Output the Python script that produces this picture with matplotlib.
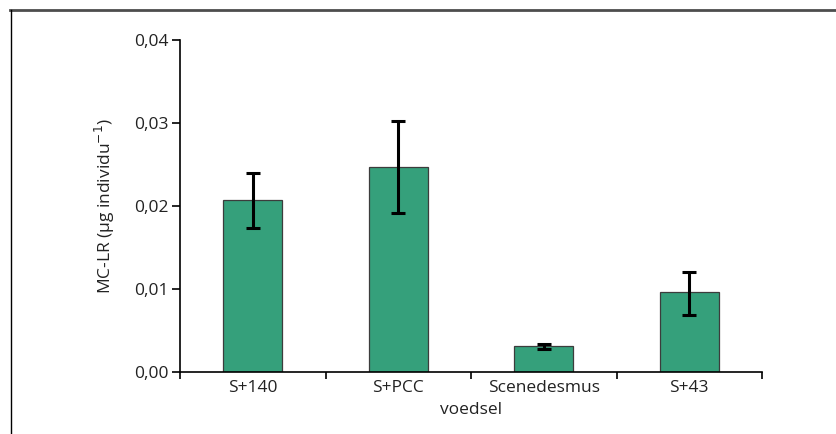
import numpy as np
import matplotlib.pyplot as plt
from matplotlib.lines import Line2D
from matplotlib.ticker import FuncFormatter

plt.rcParams['font.family'] = ['Open Sans', 'DejaVu Sans']

# Data
categories = ['S+140', 'S+PCC', 'Scenedesmus', 'S+43']
values = [0.0207, 0.0247, 0.0031, 0.0096]
err_low = [0.0173, 0.0191, 0.0028, 0.0069]
err_high = [0.0240, 0.0303, 0.0034, 0.0121]

values = np.array(values)
yerr = np.array([values - np.array(err_low), np.array(err_high) - values])
x = np.arange(len(categories))

fig = plt.figure(figsize=(8.36, 4.34), dpi=100)
ax = fig.add_axes([180 / 836, 62 / 434, 582 / 836, 332 / 434])

ax.bar(x, values, width=0.405, color='#35a07b', edgecolor='#3c3c3c', linewidth=0.9, zorder=2)
ax.errorbar(x, values, yerr=yerr, fmt='none', ecolor='black', elinewidth=2.2,
            capsize=4.8, capthick=2.2, zorder=3)

ax.set_xlim(-0.5, 3.5)
ax.set_ylim(0, 0.04)
ax.set_yticks([0, 0.01, 0.02, 0.03, 0.04])
ax.yaxis.set_major_formatter(FuncFormatter(lambda v, p: f'{v:.2f}'.replace('.', ',')))

# category boundaries as ticks, labels on minor ticks
ax.set_xticks(np.arange(-0.5, 4, 1.0))
ax.set_xticklabels([])
ax.set_xticks(x, minor=True)
ax.set_xticklabels(categories, minor=True)
ax.tick_params(axis='x', which='major', direction='out', length=5, width=1.2)
ax.tick_params(axis='x', which='minor', length=0, pad=6)
ax.tick_params(axis='y', direction='out', length=5.5, width=1.2, pad=3)
ax.tick_params(which='both', labelsize=12.5, labelcolor='#222222')

for s in ['top', 'right']:
    ax.spines[s].set_visible(False)
for s in ['left', 'bottom']:
    ax.spines[s].set_linewidth(1.2)

ax.set_xlabel('voedsel', fontsize=12.5, color='#222222', labelpad=4)
ax.set_ylabel('MC-LR (µg individu$^{-1}$)', fontsize=12.5, color='#222222', labelpad=12)

# outer frame (top and left)
fig.add_artist(Line2D([10 / 836, 1], [1 - 9.5 / 434, 1 - 9.5 / 434], color='#4d4d4d', linewidth=2,
                      transform=fig.transFigure))
fig.add_artist(Line2D([10.5 / 836, 10.5 / 836], [0, 1 - 9.5 / 434], color='black', linewidth=1,
                      transform=fig.transFigure))

fig.savefig('out.png', dpi=100)
